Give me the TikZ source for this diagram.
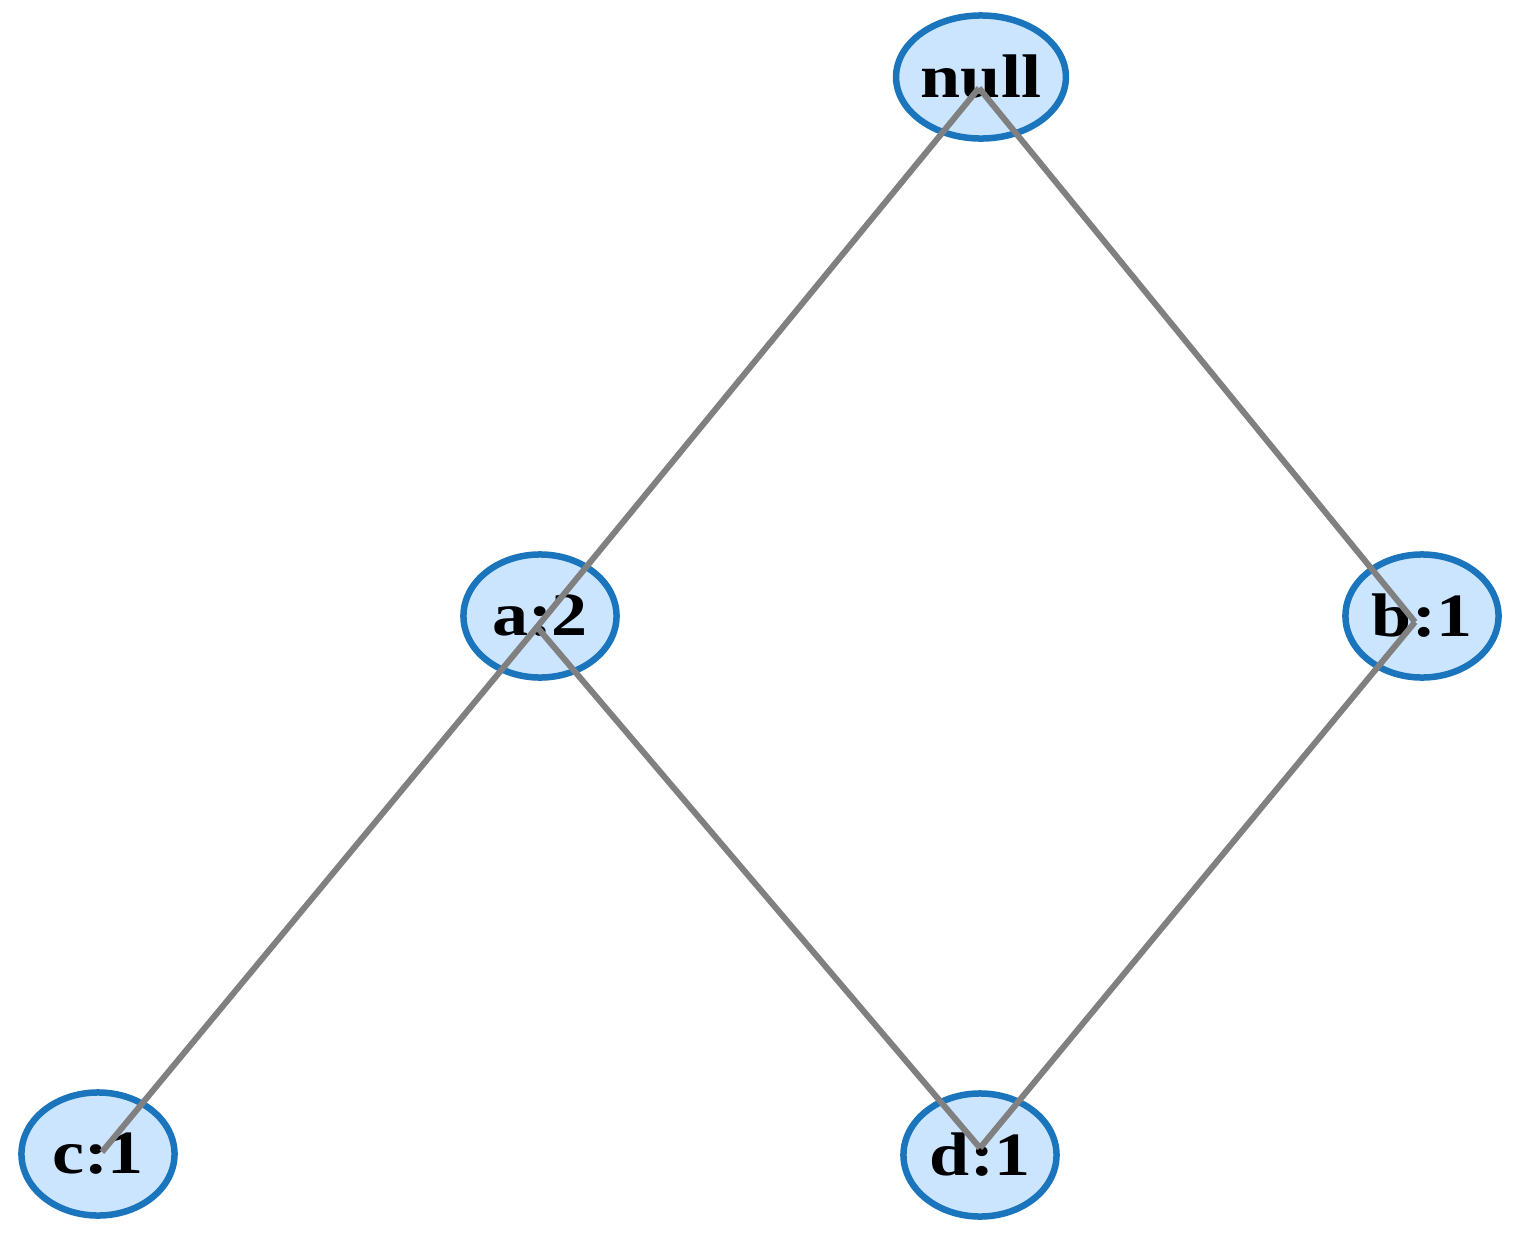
\documentclass[tikz,border=0pt]{standalone}
\usepackage{fontspec}
\setmainfont{Liberation Serif}
\usepackage{graphicx}
\usetikzlibrary{shapes.geometric}
\definecolor{nodefill}{HTML}{CCE5FF}
\definecolor{nodeline}{HTML}{1A75BC}
\definecolor{edgegray}{HTML}{808080}
\begin{document}
\begin{tikzpicture}[x=0.01cm,y=-0.01cm,
  treenode/.style={ellipse, draw=nodeline, fill=nodefill, line width=0.065cm,
    minimum width=1.53cm, minimum height=1.23cm, inner sep=0pt,
    font=\fontsize{17.5}{17.5}\selectfont\bfseries},
  link/.style={draw=edgegray, line width=0.06cm}]
\useasboundingbox (0,0) rectangle (1520,1245);
\node[treenode] (null) at (981,77)   {\raisebox{-0.04cm}{\scalebox{1.17}[1]{null}}};
\node[treenode] (a)    at (540,616)  {\raisebox{-0.04cm}{\scalebox{1.17}[1]{a:2}}};
\node[treenode] (b)    at (1422,616) {\raisebox{-0.04cm}{\scalebox{1.17}[1]{b:1}}};
\node[treenode] (c)    at (98,1154)  {\raisebox{-0.04cm}{\scalebox{1.17}[1]{c:1}}};
\node[treenode] (d)    at (980,1155) {\raisebox{-0.04cm}{\scalebox{1.17}[1]{d:1}}};
\draw[link] ([shift={(-2,11)}]null.center) -- ([shift={(-3,11)}]a.center);
\draw[link] ([shift={(-2,11)}]null.center) -- ([shift={(-7,6)}]b.center);
\draw[link] ([shift={(-3,11)}]a.center) -- ([shift={(4,-2)}]c.center);
\draw[link] ([shift={(-3,11)}]a.center) -- ([shift={(0,-7)}]d.center);
\draw[link] ([shift={(-7,6)}]b.center) -- ([shift={(0,-7)}]d.center);
\end{tikzpicture}
\end{document}
